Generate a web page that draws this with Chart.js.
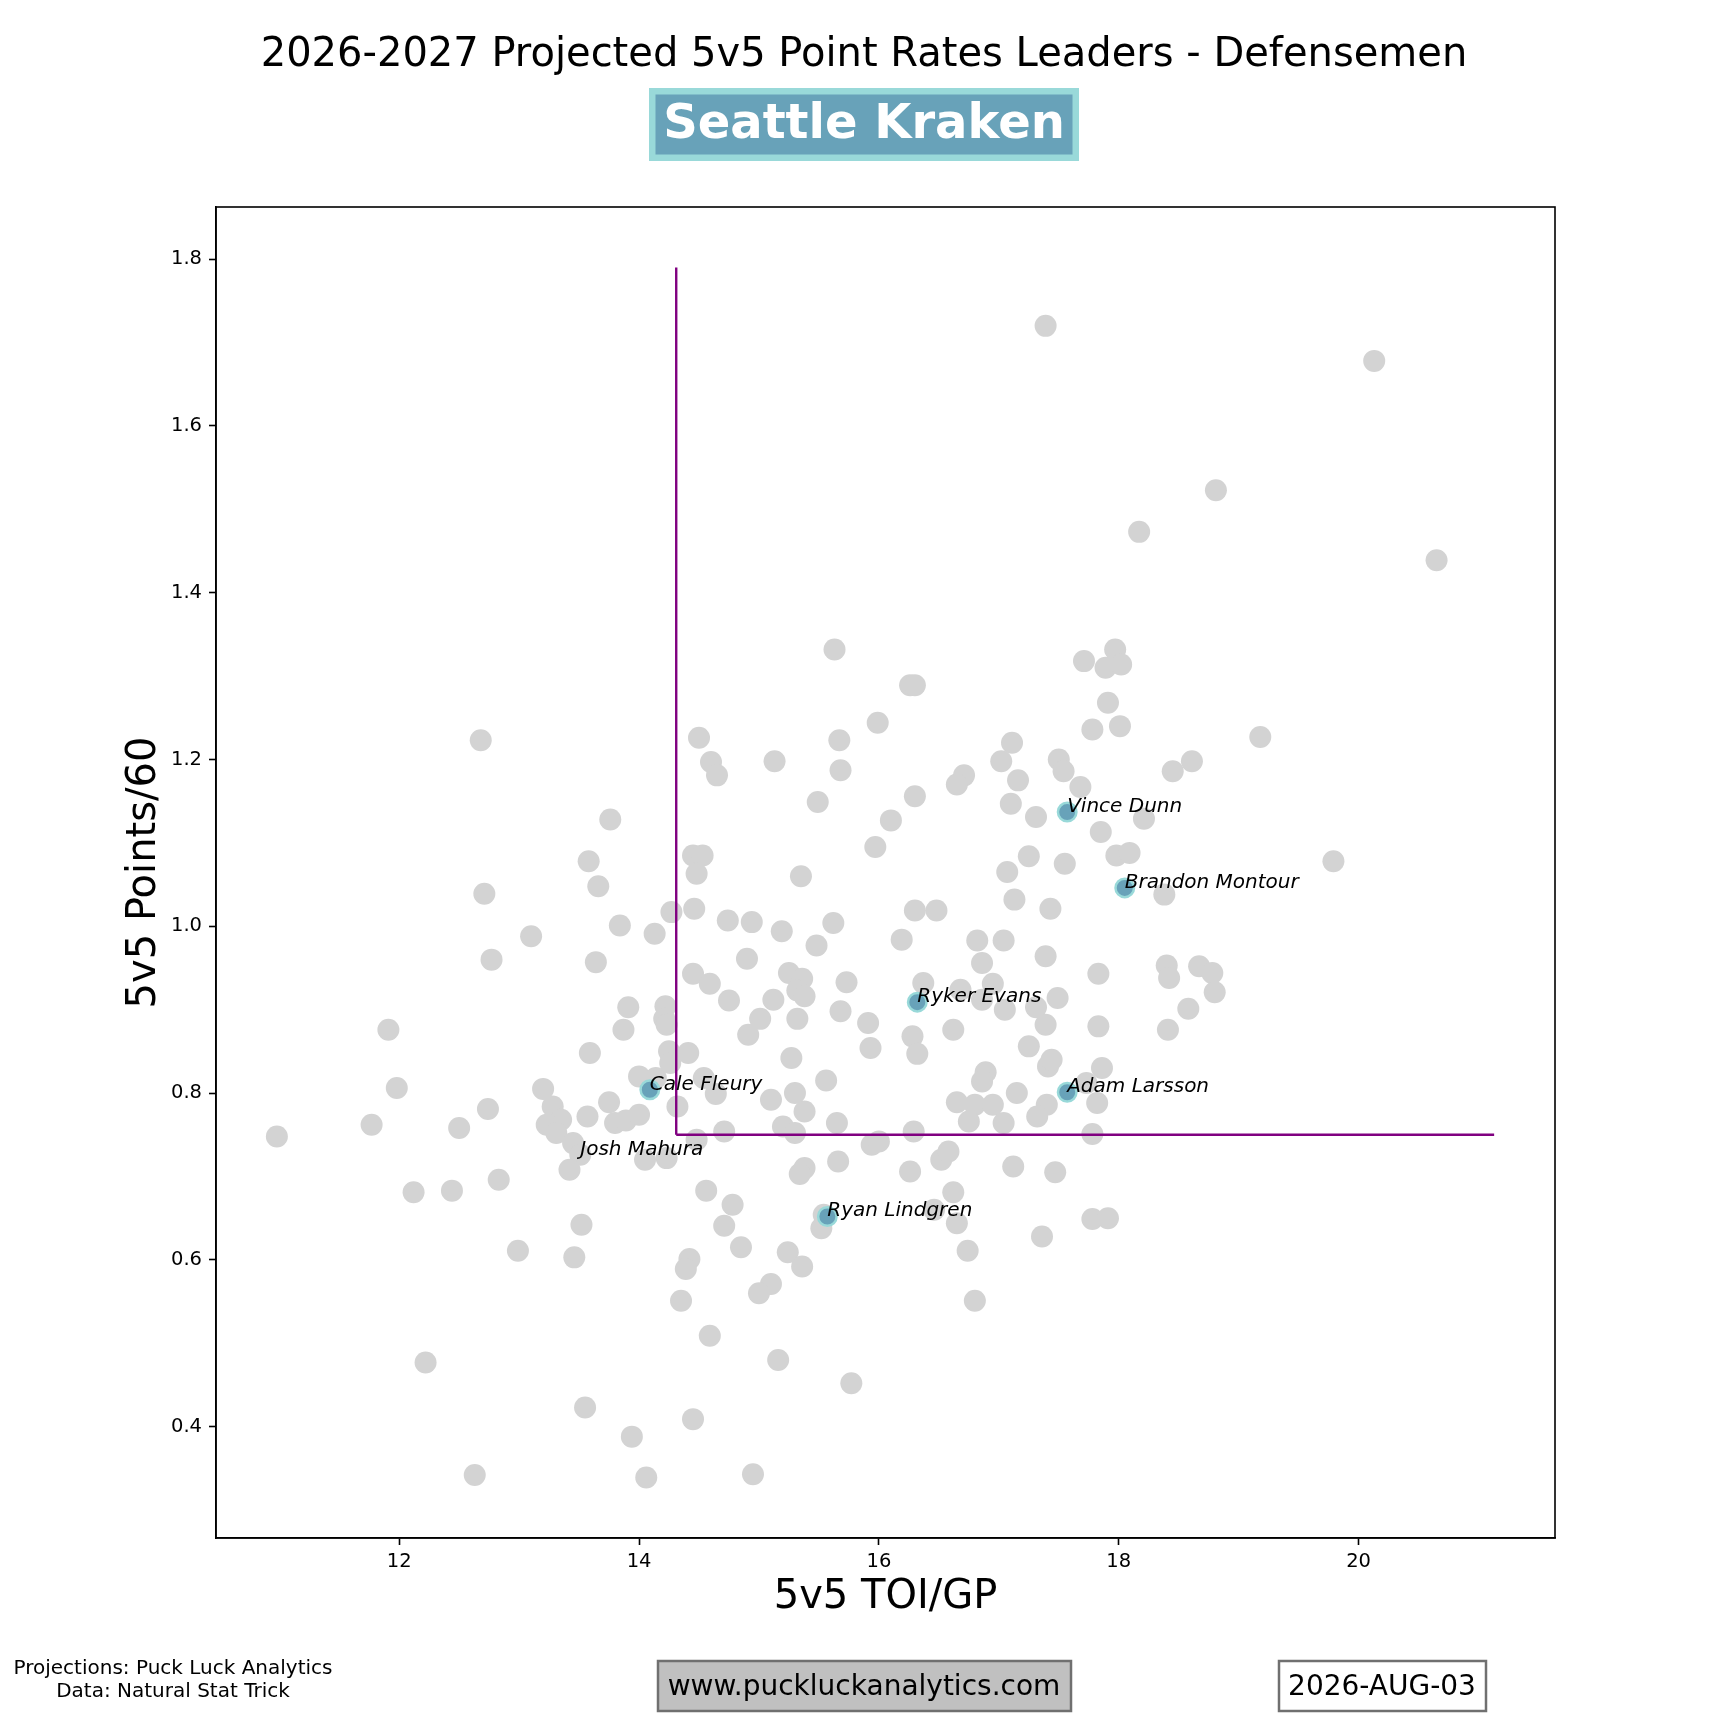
<!DOCTYPE html>
<html>
<head>
<meta charset="utf-8">
<title>2026-2027 Projected 5v5 Point Rates Leaders - Defensemen</title>
<script src="https://cdn.jsdelivr.net/npm/chart.js@4.4.0/dist/chart.umd.min.js"></script>
<style>
    html, body { margin: 0; padding: 0; background: #fff; }
    canvas { display: block; }
</style>
</head>
<body>
<canvas id="chart" width="1728" height="1728"></canvas>
<script>
// League defensemen (grey dots): 5v5 TOI/GP and 5v5 Points/60
const leagueToi = [
    17.39, 20.13, 18.81, 18.17, 20.65, 17.97, 17.71, 17.89, 18.02, 17.91,
    15.63, 16.26, 16.30, 15.99,
    17.78, 18.01, 19.18, 17.11, 17.02, 17.50, 17.54, 16.71, 16.65, 17.16,
    17.68, 18.45, 18.61, 16.30, 16.10, 17.10, 17.31, 18.21, 17.85, 17.98,
    18.09, 17.25, 17.55, 17.07, 19.79, 18.38, 17.13, 17.43, 16.30, 16.48,
    16.19, 16.82, 17.04, 17.39, 16.86, 17.83, 18.40, 18.42, 18.67, 18.78,
    18.80, 18.58, 18.41, 16.37, 16.68, 16.95, 16.86, 17.05, 17.31, 17.49,
    17.39, 17.83, 16.62, 16.28, 16.32, 17.25, 17.41, 17.44, 17.86, 16.89,
    16.86, 17.15, 17.73, 17.82, 16.65, 16.80, 16.95, 16.75, 17.04, 17.40,
    17.32, 16.29, 17.78,
    15.94, 16.00, 15.38, 15.34, 15.66, 16.26, 16.52, 16.58, 17.12, 17.47,
    16.62, 15.54, 15.52, 16.46, 16.65, 16.74, 17.36, 17.78, 17.91, 15.24,
    15.36, 15.10, 15.00, 16.80, 15.16, 15.77,
    12.68, 14.50, 14.60, 14.65, 15.13, 15.67, 15.68, 15.49, 15.97, 13.76,
    13.58, 13.66, 12.71, 14.45, 14.53, 14.48, 15.35, 14.27, 14.46, 13.84,
    14.13, 13.10, 12.77, 13.64, 14.74, 14.94, 15.19, 15.62, 15.48, 14.90,
    14.45, 14.59, 14.75, 15.25, 15.36, 15.32, 15.38, 15.12, 15.73, 15.01,
    15.32, 14.91, 15.68, 15.91, 15.93, 15.27, 15.56, 15.30, 15.38, 15.10,
    14.64, 14.54, 14.32, 15.65, 15.20, 15.30, 14.71, 14.48, 14.56, 14.78,
    11.91, 11.98, 11.77, 12.50, 12.74, 12.12, 12.44, 12.83, 13.20, 13.28,
    13.35, 13.23, 13.31, 13.45, 13.51, 13.42, 13.57, 13.75, 13.80, 13.89,
    14.00, 14.00, 14.14, 14.05, 14.23, 14.25, 14.41, 14.26, 13.87, 13.91,
    14.22, 14.21, 14.23, 13.59,
    10.98, 13.52, 12.99, 13.46, 14.71, 14.85, 14.42, 14.39, 14.35, 14.59,
    12.22, 13.55, 14.45, 13.94, 12.63, 14.06, 14.95
];
const leaguePts = [
    1.720, 1.678, 1.523, 1.473, 1.439, 1.332, 1.318, 1.310, 1.314, 1.268,
    1.332, 1.289, 1.289, 1.244,
    1.236, 1.240, 1.227, 1.220, 1.198, 1.200, 1.186, 1.181, 1.170, 1.175,
    1.167, 1.186, 1.198, 1.156, 1.127, 1.147, 1.131, 1.129, 1.113, 1.085,
    1.088, 1.084, 1.075, 1.065, 1.078, 1.038, 1.032, 1.021, 1.019, 1.019,
    0.984, 0.983, 0.983, 0.964, 0.956, 0.943, 0.953, 0.938, 0.952, 0.944,
    0.921, 0.901, 0.876, 0.932, 0.924, 0.931, 0.912, 0.900, 0.903, 0.914,
    0.882, 0.880, 0.876, 0.868, 0.847, 0.856, 0.832, 0.840, 0.830, 0.825,
    0.814, 0.800, 0.812, 0.788, 0.789, 0.786, 0.786, 0.766, 0.764, 0.786,
    0.772, 0.754, 0.751,
    0.738, 0.742, 0.710, 0.703, 0.718, 0.706, 0.720, 0.730, 0.712, 0.705,
    0.681, 0.654, 0.638, 0.660, 0.644, 0.611, 0.628, 0.649, 0.650, 0.609,
    0.592, 0.571, 0.560, 0.551, 0.480, 0.452,
    1.223, 1.226, 1.197, 1.181, 1.198, 1.223, 1.187, 1.149, 1.095, 1.128,
    1.078, 1.048, 1.039, 1.085, 1.085, 1.063, 1.060, 1.017, 1.021, 1.001,
    0.991, 0.988, 0.960, 0.957, 1.007, 1.005, 0.994, 1.004, 0.977, 0.961,
    0.943, 0.931, 0.911, 0.944, 0.937, 0.923, 0.916, 0.912, 0.933, 0.889,
    0.889, 0.870, 0.898, 0.884, 0.854, 0.842, 0.815, 0.800, 0.778, 0.792,
    0.799, 0.818, 0.784, 0.764, 0.760, 0.752, 0.754, 0.744, 0.683, 0.666,
    0.876, 0.806, 0.762, 0.758, 0.781, 0.681, 0.683, 0.696, 0.805, 0.784,
    0.768, 0.762, 0.752, 0.740, 0.726, 0.708, 0.772, 0.789, 0.764, 0.767,
    0.774, 0.820, 0.818, 0.720, 0.722, 0.850, 0.848, 0.836, 0.876, 0.903,
    0.904, 0.889, 0.882, 0.848,
    0.748, 0.642, 0.611, 0.603, 0.641, 0.615, 0.601, 0.589, 0.551, 0.509,
    0.477, 0.423, 0.409, 0.388, 0.342, 0.339, 0.343
];

// Seattle Kraken defensemen (highlighted + labelled)
const teamNames = ['Vince Dunn', 'Brandon Montour', 'Ryker Evans', 'Adam Larsson',
                   'Cale Fleury', 'Josh Mahura', 'Ryan Lindgren'];
const teamToi = [17.57, 18.05, 16.32, 17.57, 14.09, 13.51, 15.57];
const teamPts = [1.137, 1.046, 0.909, 0.801, 0.804, 0.726, 0.652];
// marker sits under the grey dots in the original, only the name shows
const hiddenMarkers = ['Josh Mahura'];

// reference lines
const thresholdToi = 14.31;
const thresholdPts = 0.75;
const lineEndToi = 21.13;
const lineEndPts = 1.79;

const xTicks = [12, 14, 16, 18, 20];
const yTicks = [0.4, 0.6, 0.8, 1.0, 1.2, 1.4, 1.6, 1.8];

const FONT = '"DejaVu Sans", "Liberation Sans", sans-serif';

// axis limits with a 5% margin round the data, like matplotlib
function paddedRange(values) {
    const lo = Math.min(...values);
    const hi = Math.max(...values);
    const pad = (hi - lo) * 0.05;
    return [lo - pad, hi + pad];
}
const [xMin, xMax] = paddedRange(leagueToi.concat(teamToi, [thresholdToi, lineEndToi]));
const [yMin, yMax] = paddedRange(leaguePts.concat(teamPts, [thresholdPts, lineEndPts]));

const toPoints = (xs, ys) => xs.map((v, i) => ({ x: v, y: ys[i] }));

// Titles, labels, footer boxes
const decorations = {
    id: 'decorations',
    afterDatasetsDraw(chart) {
        const { ctx, scales: { x, y } } = chart;
        ctx.save();
        ctx.fillStyle = '#000';
        ctx.font = 'italic 20px ' + FONT;
        ctx.textAlign = 'left';
        ctx.textBaseline = 'alphabetic';
        teamNames.forEach((name, i) => {
            ctx.fillText(name, x.getPixelForValue(teamToi[i]), y.getPixelForValue(teamPts[i]));
        });
        ctx.restore();
    },
    afterDraw(chart) {
        const { ctx, chartArea: a } = chart;
        ctx.save();

        // frame
        ctx.strokeStyle = '#000';
        ctx.lineWidth = 1.6;
        ctx.strokeRect(a.left, a.top, a.right - a.left, a.bottom - a.top);

        ctx.fillStyle = '#000';
        ctx.textAlign = 'center';
        ctx.textBaseline = 'alphabetic';

        // title
        ctx.font = '40px ' + FONT;
        ctx.fillText('2026-2027 Projected 5v5 Point Rates Leaders - Defensemen', 864, 66);

        // team name box
        ctx.fillStyle = '#99D9D9';
        ctx.fillRect(649, 88, 430, 73);
        ctx.fillStyle = '#68A2B9';
        ctx.fillRect(655.5, 94.5, 417, 60);
        ctx.fillStyle = '#fff';
        ctx.font = 'bold 48px ' + FONT;
        ctx.fillText('Seattle Kraken', 864, 138);

        // axis titles
        ctx.fillStyle = '#000';
        ctx.font = '40px ' + FONT;
        ctx.fillText('5v5 TOI/GP', (a.left + a.right) / 2, 1608);
        ctx.save();
        ctx.translate(155, (a.top + a.bottom) / 2);
        ctx.rotate(-Math.PI / 2);
        ctx.fillText('5v5 Points/60', 0, 0);
        ctx.restore();

        // footer: sources
        ctx.font = '20px ' + FONT;
        ctx.fillText('Projections: Puck Luck Analytics', 173, 1674);
        ctx.fillText('Data: Natural Stat Trick', 173, 1697);

        // footer: website and date boxes
        ctx.lineWidth = 2.5;
        ctx.strokeStyle = '#707070';
        ctx.fillStyle = '#c0c0c0';
        ctx.fillRect(658, 1661, 413, 50);
        ctx.strokeRect(658, 1661, 413, 50);
        ctx.fillStyle = '#fff';
        ctx.fillRect(1279, 1661, 207, 50);
        ctx.strokeRect(1279, 1661, 207, 50);

        ctx.fillStyle = '#000';
        ctx.font = '28px ' + FONT;
        ctx.fillText('www.puckluckanalytics.com', 864, 1695);
        ctx.fillText('2026-AUG-03', 1382, 1695);

        ctx.restore();
    }
};

const tickFont = { family: FONT, size: 19.5 };

new Chart(document.getElementById('chart'), {
    type: 'scatter',
    data: {
        datasets: [
            {
                label: 'Seattle Kraken',
                data: toPoints(teamToi, teamPts),
                pointBackgroundColor: '#68A2B9',
                pointBorderColor: '#99D9D9',
                pointBorderWidth: 2.5,
                pointRadius: ctx => hiddenMarkers.includes(teamNames[ctx.dataIndex]) ? 0 : 9.25,
                order: 0
            },
            {
                label: 'TOI threshold',
                data: [{ x: thresholdToi, y: thresholdPts }, { x: thresholdToi, y: lineEndPts }],
                showLine: true,
                borderColor: '#800080',
                borderWidth: 2.4,
                pointRadius: 0,
                order: 1
            },
            {
                label: 'Points threshold',
                data: [{ x: thresholdToi, y: thresholdPts }, { x: lineEndToi, y: thresholdPts }],
                showLine: true,
                borderColor: '#800080',
                borderWidth: 2.4,
                pointRadius: 0,
                order: 1
            },
            {
                label: 'League',
                data: toPoints(leagueToi, leaguePts),
                pointBackgroundColor: '#d3d3d3',
                pointBorderWidth: 0,
                pointRadius: 11,
                order: 2
            }
        ]
    },
    options: {
        responsive: false,
        animation: false,
        devicePixelRatio: 1,
        layout: { padding: { left: 0, top: 207, right: 173, bottom: 0 } },
        plugins: {
            legend: { display: false },
            title: { display: false },
            tooltip: { enabled: false }
        },
        scales: {
            x: {
                type: 'linear',
                min: xMin,
                max: xMax,
                afterFit: scale => { scale.height = 190; },
                afterBuildTicks: scale => { scale.ticks = xTicks.map(v => ({ value: v })); },
                ticks: {
                    font: tickFont,
                    color: '#000',
                    padding: 5,
                    maxRotation: 0,
                    callback: v => String(v)
                },
                grid: {
                    display: true,
                    drawOnChartArea: false,
                    drawTicks: true,
                    tickLength: 7,
                    tickColor: '#000',
                    tickWidth: 1.6
                },
                border: { display: true, color: '#000', width: 1.6 }
            },
            y: {
                type: 'linear',
                min: yMin,
                max: yMax,
                afterFit: scale => { scale.width = 216; },
                afterBuildTicks: scale => { scale.ticks = yTicks.map(v => ({ value: v })); },
                ticks: {
                    font: tickFont,
                    color: '#000',
                    padding: 7,
                    callback: v => v.toFixed(1)
                },
                grid: {
                    display: true,
                    drawOnChartArea: false,
                    drawTicks: true,
                    tickLength: 7,
                    tickColor: '#000',
                    tickWidth: 1.6
                },
                border: { display: true, color: '#000', width: 1.6 }
            }
        }
    },
    plugins: [decorations]
});
</script>
</body>
</html>
